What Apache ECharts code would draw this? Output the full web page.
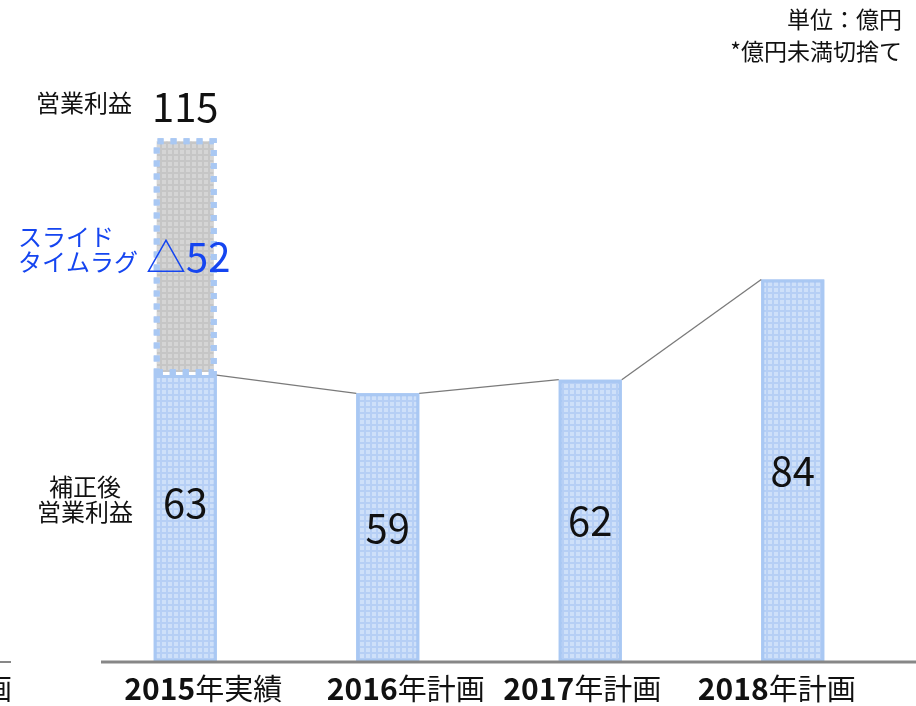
<!DOCTYPE html>
<html><head><meta charset="utf-8">
<script src="https://cdn.jsdelivr.net/npm/echarts@6/dist/echarts.min.js"></script>
<style>html,body{margin:0;padding:0;background:#fff}#c{width:916px;height:706px}</style>
</head><body><div id="c"></div>
<script>
const categories = ['2015年実績', '2016年計画', '2017年計画', '2018年計画'];
const adjustedProfit = [63, 59, 62, 84];
const slideTimeLag = [52, null, null, null];
const operatingProfit = [115, null, null, null];
const labelShift = [36, 36, -16, -32];

const FONT = '"Noto Sans CJK JP", "Noto Sans", sans-serif';
const BAR_W = 63;
const chart = echarts.init(document.getElementById('c'), null, {renderer: 'canvas'});

const decalBlue = {symbol: 'rect', symbolSize: 1, dashArrayX: [[4, 2]], dashArrayY: [4, 2], color: 'rgba(235,243,255,0.45)', rotation: 0};
const decalGray = {symbol: 'rect', symbolSize: 1, dashArrayX: [[4, 2]], dashArrayY: [4, 2], color: 'rgba(230,230,230,0.45)', rotation: 0};

chart.setOption({
  animation: false,
  backgroundColor: '#fff',
  grid: {left: 84, right: 22, top: 70, bottom: 44},
  xAxis: {
    type: 'category',
    data: categories.map((c, i) => ({
      value: c,
      textStyle: labelShift[i] > 0 ? {padding: [0, 0, 0, labelShift[i]]} : {padding: [0, -labelShift[i], 0, 0]}
    })),
    axisLine: {show: false},
    axisTick: {show: false},
    axisLabel: {
      margin: 12,
      formatter: v => '{b|' + v.slice(0, 4) + '}{n|' + v.slice(4) + '}',
      rich: {
        b: {fontFamily: FONT, fontSize: 30, fontWeight: 'bold', color: '#111'},
        n: {fontFamily: FONT, fontSize: 29, color: '#111'}
      }
    }
  },
  yAxis: {type: 'value', min: 0, max: 130, show: false, splitLine: {show: false}},
  series: [
    {
      type: 'bar', stack: 'p', barWidth: BAR_W, data: adjustedProfit,
      itemStyle: {color: '#b6cff5', borderColor: '#a9c8f3', borderWidth: 3, decal: decalBlue},
      label: {
        show: true, position: 'inside', fontFamily: FONT, fontSize: 40, color: '#111',
        formatter: p => String(p.value)
      },
      labelLayout: p => p.dataIndex === 0 ? {dy: -16} : {}
    },
    {
      type: 'bar', stack: 'p', barWidth: BAR_W, data: slideTimeLag,
      itemStyle: {color: '#c6c6c6', borderColor: '#a9c8f3', borderWidth: 6, borderType: [6, 7], decal: decalGray},
      label: {
        show: true, position: 'inside', fontFamily: FONT, fontSize: 40, color: '#1545f0',
        formatter: p => p.value == null ? '' : '△' + p.value
      },
      labelLayout: {dx: 3}
    },
    {
      type: 'bar', stack: 'p', barWidth: BAR_W, data: operatingProfit.map(v => v == null ? null : 0),
      itemStyle: {color: 'transparent'},
      label: {
        show: true, position: 'top', distance: 12, fontFamily: FONT, fontSize: 40, color: '#111',
        formatter: p => operatingProfit[p.dataIndex] == null ? '' : String(operatingProfit[p.dataIndex])
      },
      z: 3
    },
    {
      type: 'custom',
      data: adjustedProfit.slice(0, -1).map((v, i) => [i, v, i + 1, adjustedProfit[i + 1]]),
      renderItem: (params, api) => {
        const a = api.coord([api.value(0), api.value(1)]);
        const b = api.coord([api.value(2), api.value(3)]);
        return {
          type: 'line',
          shape: {x1: a[0] + BAR_W / 2, y1: a[1], x2: b[0] - BAR_W / 2, y2: b[1]},
          style: {stroke: '#7a7a7a', lineWidth: 1.3}
        };
      },
      z: 5
    }
  ],
  graphic: [
    {type: 'line', shape: {x1: 101, y1: 662, x2: 916, y2: 662}, style: {stroke: '#878787', lineWidth: 3}, z: 10},
    {type: 'line', shape: {x1: 0, y1: 662, x2: 11, y2: 662}, style: {stroke: '#878787', lineWidth: 2}},
    {type: 'text', left: -17, top: 674, style: {text: '画', fontFamily: FONT, fontSize: 29, fill: '#111'}},
    {type: 'text', right: 14, top: 8, style: {text: '単位：億円', fontFamily: FONT, fontSize: 23, fill: '#111'}},
    {type: 'text', right: 14, top: 40, style: {text: '*億円未満切捨て', fontFamily: FONT, fontSize: 23, fill: '#111'}},
    {type: 'text', left: 36, top: 91, style: {text: '営業利益', fontFamily: FONT, fontSize: 24, fill: '#111'}},
    {type: 'text', left: 18, top: 224, style: {text: 'スライド\nタイムラグ', fontFamily: FONT, fontSize: 24, lineHeight: 25, fill: '#1545f0'}},
    {type: 'text', x: 85, y: 474, style: {text: '補正後\n営業利益', fontFamily: FONT, fontSize: 24, lineHeight: 25, fill: '#111', align: 'center', verticalAlign: 'top'}}
  ]
});
</script></body></html>
